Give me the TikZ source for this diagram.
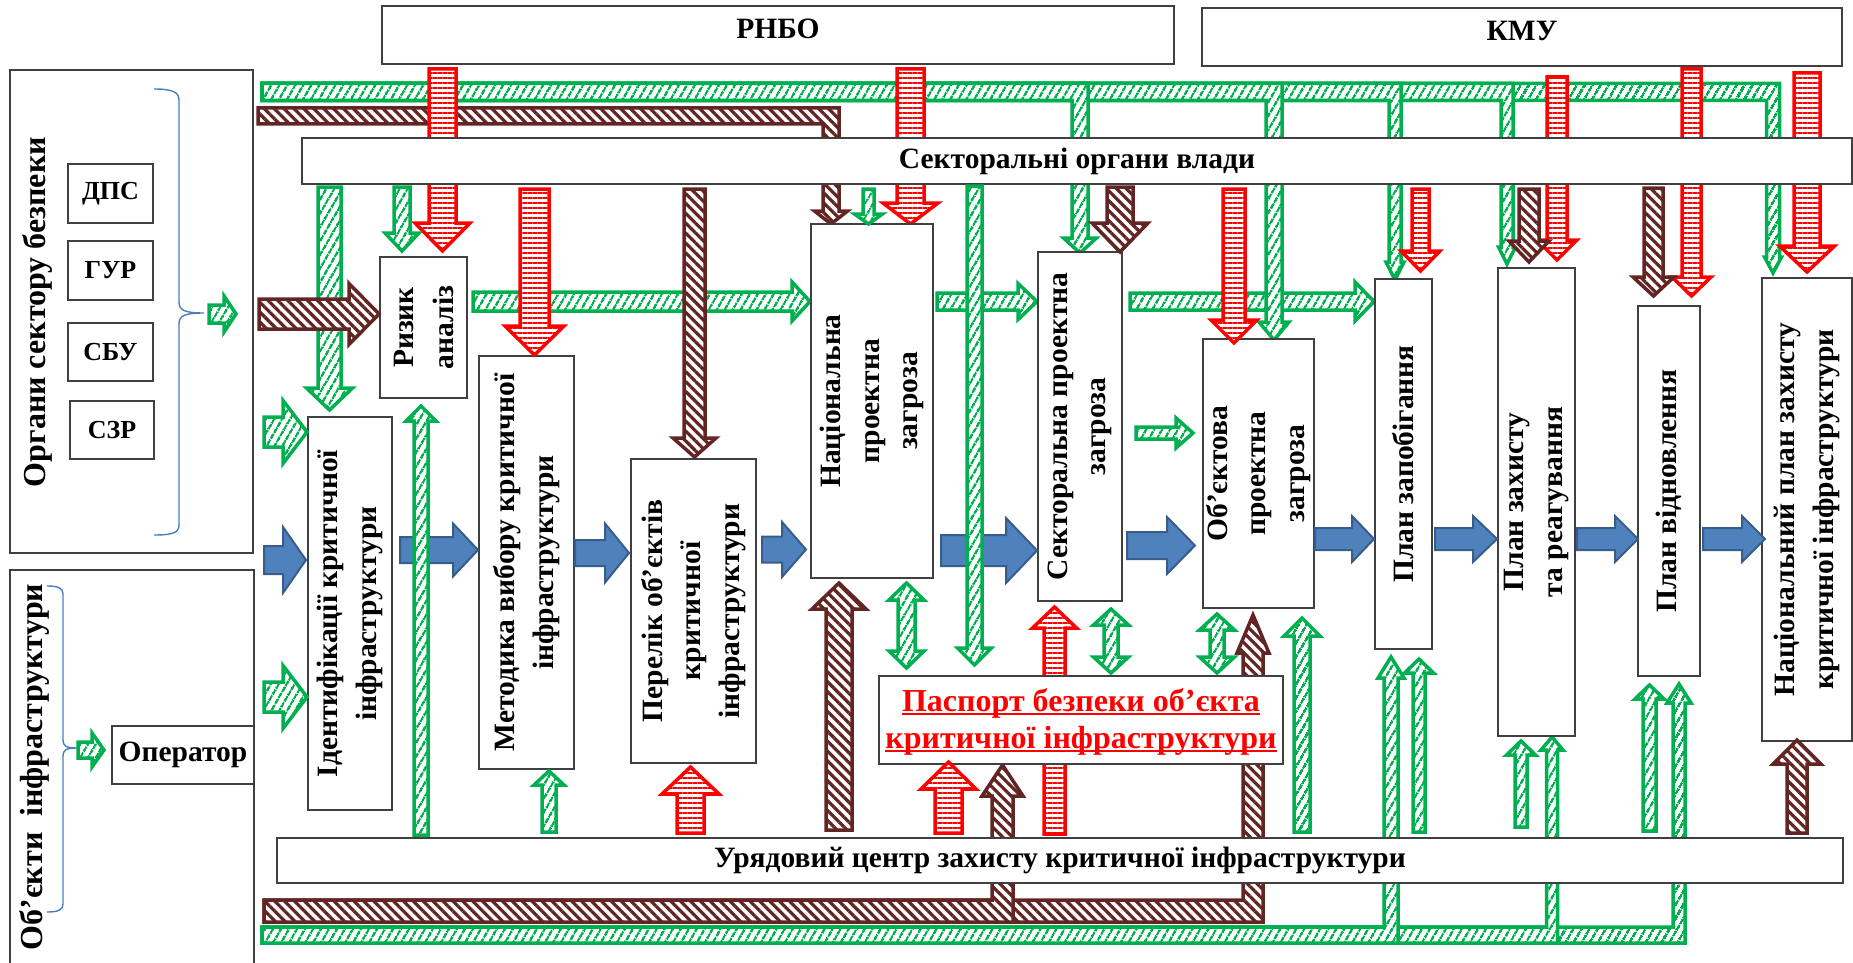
\documentclass[tikz,border=0pt]{standalone}
\usepackage{fontspec}
\setmainfont{Liberation Serif}
\usetikzlibrary{patterns.meta}
\definecolor{G}{HTML}{00B050}
\definecolor{R}{HTML}{FF0000}
\definecolor{Br}{HTML}{632523}
\definecolor{BlF}{HTML}{4F81BD}
\definecolor{BlD}{HTML}{385D8A}
\definecolor{Bx}{HTML}{404040}
\definecolor{Brc}{HTML}{4A7EBB}
% vertical block arrow: x, y0, ybase, ytip, half shaft, half head, style
\newcommand{\VA}[7]{\path[#7] (#1-#5,#2) -- (#1-#5,#3) -- (#1-#6,#3) -- (#1,#4) -- (#1+#6,#3) -- (#1+#5,#3) -- (#1+#5,#2) -- cycle;}
% horizontal block arrow: y, x0, xbase, xtip, half shaft, half head, style
\newcommand{\HA}[7]{\path[#7] (#2,#1-#5) -- (#3,#1-#5) -- (#3,#1-#6) -- (#4,#1) -- (#3,#1+#6) -- (#3,#1+#5) -- (#2,#1+#5) -- cycle;}
% double vertical: x, ytop, ybot, headlen, half shaft, half head, style
\newcommand{\DVA}[7]{\path[#7] (#1,#2) -- (#1+#6,#2+#4) -- (#1+#5,#2+#4) -- (#1+#5,#3-#4) -- (#1+#6,#3-#4) -- (#1,#3) -- (#1-#6,#3-#4) -- (#1-#5,#3-#4) -- (#1-#5,#2+#4) -- (#1-#6,#2+#4) -- cycle;}
% L arrows: y, x0, xb, ybase, ytip, half h, half v, half head, style
\newcommand{\LAD}[9]{\path[#9] (#2,#1-#6) -- (#3+#7,#1-#6) -- (#3+#7,#4) -- (#3+#8,#4) -- (#3,#5) -- (#3-#8,#4) -- (#3-#7,#4) -- (#3-#7,#1+#6) -- (#2,#1+#6) -- cycle;}
\newcommand{\LAU}[9]{\path[#9] (#2,#1+#6) -- (#3+#7,#1+#6) -- (#3+#7,#4) -- (#3+#8,#4) -- (#3,#5) -- (#3-#8,#4) -- (#3-#7,#4) -- (#3-#7,#1-#6) -- (#2,#1-#6) -- cycle;}
% box: [opts]{x1}{y1}{x2}{y2}{name}
\newcommand{\BX}[6][]{\node[box,minimum width={(#4-#2)*1pt},minimum height={(#5-#3)*1pt},#1] (#6) at ({(#2+#4)/2},{(#3+#5)/2}) {};}
\begin{document}
\begin{tikzpicture}[x=1pt,y=-1pt,
 garr/.style={preaction={fill=white}, pattern={Lines[angle=60,distance=6.5pt,line width=2.4pt]}, pattern color=G, draw=G, line width=3.5pt, line join=miter},
 rarr/.style={preaction={fill=white}, pattern={Lines[angle=0,distance=5pt,line width=2.6pt]}, pattern color=R, draw=R, line width=3.5pt, line join=miter},
 barr/.style={preaction={fill=white}, pattern={Lines[angle=-45,distance=7pt,line width=3.2pt]}, pattern color=Br, draw=Br, line width=3.5pt, line join=miter},
 blarr/.style={fill=BlF, draw=BlD, line width=2pt, line join=miter},
 box/.style={draw=Bx, line width=1.6pt, fill=white, inner sep=0pt, outer sep=0pt},
 lbl/.style={font=\fontsize{29.5}{38.5}\selectfont\bfseries, align=center, inner sep=0pt},
 big/.style={font=\fontsize{32}{36}\selectfont\bfseries, align=center, inner sep=0pt},
 sml/.style={font=\fontsize{26}{30}\selectfont\bfseries, inner sep=0pt},
 pas/.style={font=\fontsize{32}{36}\selectfont\bfseries, inner sep=0pt, text=R, anchor=base},
 brc/.style={draw=Brc, line width=1.4pt}]
\useasboundingbox (0,0) rectangle (1853,963);
\fill[white] (0,0) rectangle (1853,963);

% horizontal green flows (lowest layer)
\HA{301.5}{473}{792}{810}{9.5}{19.5}{garr}
\HA{301.5}{937}{1018}{1037}{8.5}{18}{garr}
\HA{301.5}{1130}{1355}{1374}{8.5}{19.5}{garr}

% top buses
\LAD{92}{262}{1773}{257}{273}{8.5}{6.5}{8.5}{garr}
\LAD{92}{262}{1507}{247}{264}{8.5}{6}{8.5}{garr}
\LAD{92}{262}{1395}{262}{280}{8.5}{6}{9}{garr}
\LAD{92}{262}{1274}{322}{340}{8.5}{8}{15}{garr}
\LAD{92}{262}{1080}{238}{253}{8.5}{8}{16.5}{garr}
\LAD{116}{258}{831}{211}{224}{8}{8}{16.5}{barr}
% bottom buses
\LAU{935}{262}{1679}{703}{684}{8}{6}{12}{garr}
\LAU{935}{262}{1552}{750}{737}{8}{5.5}{11}{garr}
\LAU{935}{262}{1391}{678}{657}{8}{7}{13}{garr}
\LAU{911}{264}{1253}{653}{615}{11}{10}{16}{barr}
\LAU{911}{264}{1002.5}{796}{765}{11}{10.5}{20.5}{barr}

% red arrows from the top
\VA{442.5}{69}{223}{251}{13.5}{27.5}{rarr}
\VA{910.5}{69}{203}{224}{13.5}{27.5}{rarr}
\VA{1557}{77}{240}{260}{10}{20}{rarr}
\VA{1691.5}{69}{277}{296}{9.5}{19.5}{rarr}
\VA{1807}{73}{246}{272}{13}{27.5}{rarr}
\VA{1054.5}{834}{628}{607}{10.5}{22}{rarr}

% wide boxes
\BX{382}{6}{1174}{64}{rnbo}
\BX{1202}{8}{1842}{66}{kmu}
\node[lbl] (rnbo-t) at (778,29) {РНБО};
\node[lbl] (kmu-t) at (1522,31) {КМУ};
\node[box,lbl,minimum width=1550pt,minimum height=46pt] (sekt) at (1077,161) {Секторальні органи влади};
\node[box,lbl,minimum width=1566pt,minimum height=45pt] (uryad) at (1060,860.5) {Урядовий центр захисту критичної інфраструктури};

% left side
\BX{10}{70}{253}{553}{organy}
\BX{10}{570}{254}{990}{obinfra}
\node[big,rotate=90] (organy-t) at (37,312) {Органи сектору безпеки};
\node[big,rotate=90] (obinfra-t) at (34,767) {Об’єкти\ \ інфраструктури};
\BX{68}{164}{153}{223}{dps}\node[sml] (dps-t) at (dps) {ДПС};
\BX{68}{241}{153}{300}{gur}\node[sml] (gur-t) at (gur) {ГУР};
\BX{68}{323}{153}{381}{sbu}\node[sml] (sbu-t) at (sbu) {СБУ};
\BX{70}{401}{154}{459}{szr}\node[sml] (szr-t) at (szr) {СЗР};
\BX{112}{726}{254}{784}{operator}\node[lbl] (operator-t) at (operator) {Оператор};
\draw[brc] (154,89) .. controls (172,89) and (179,92) .. (179,100) -- (179,302) .. controls (179,310) and (184,313) .. (204,313) .. controls (184,313) and (179,316) .. (179,324) -- (179,525) .. controls (179,533) and (172,535) .. (154,535);
\draw[brc] (47,586) .. controls (58,586) and (63,588) .. (63,594) -- (63,740) .. controls (63,746) and (66,748) .. (77,748) .. controls (66,748) and (63,750) .. (63,756) -- (63,904) .. controls (63,910) and (58,912) .. (47,912);

% process boxes
\BX{380}{257}{467}{398}{ryzyk}
\BX{308}{417}{392}{810}{ident}
\BX{479}{356}{574}{769}{metod}
\BX{631}{459}{756}{763}{perelik}
\BX{811}{224}{933}{578}{natsz}
\BX{1038}{252}{1122}{601}{sektz}
\BX{1203}{339}{1314}{608}{obz}
\BX{1375}{279}{1432}{649}{planz}
\BX{1498}{268}{1575}{736}{planzr}
\BX{1638}{306}{1700}{676}{planv}
\BX{1762}{278}{1852}{741}{natplan}
\BX{879}{676}{1283}{764}{pasport}

\node[lbl,rotate=90,font=\fontsize{29.5}{40}\selectfont\bfseries] (ryzyk-t) at (ryzyk) {Ризик\\аналіз};
\node[lbl,rotate=90] (ident-t) at (ident) {Ідентифікації критичної\\інфраструктури};
\node[lbl,rotate=90] (metod-t) at (metod) {Методика вибору критичної\\інфраструктури};
\node[lbl,rotate=90] (perelik-t) at (perelik) {Перелік об’єктів\\критичної\\інфраструктури};
\node[lbl,rotate=90] (natsz-t) at (natsz) {Національна\\проектна\\загроза};
\node[lbl,rotate=90] (sektz-t) at (sektz) {Секторальна проектна\\загроза};
\node[lbl,rotate=90] (obz-t) at (obz) {Об’єктова\\проектна\\загроза};
\node[lbl,rotate=90] (planz-t) at (planz) {План запобігання};
\node[lbl,rotate=90] (planzr-t) at (planzr) {План захисту\\та реагування};
\node[lbl,rotate=90] (planv-t) at (planv) {План відновлення};
\node[lbl,rotate=90] (natplan-t) at (natplan) {Національний план захисту\\критичної інфраструктури};
\node[pas] (pas1) at (1081,711) {Паспорт безпеки об’єкта};
\node[pas] (pas2) at (1081,748) {критичної інфраструктури};
\draw[R,line width=2.5pt] ([yshift=-3pt]pas1.base west) -- ([yshift=-3pt]pas1.base east);
\draw[R,line width=2.5pt] ([yshift=-3pt]pas2.base west) -- ([yshift=-3pt]pas2.base east);

% blue flow
\HA{560}{264}{283}{306}{14}{33}{blarr}
\HA{550}{400}{453}{478}{13}{26.5}{blarr}
\HA{553}{575}{605}{629}{13}{29.5}{blarr}
\HA{549.5}{762}{782}{806}{13}{27.5}{blarr}
\HA{550.5}{941}{1006}{1037}{15.5}{32.5}{blarr}
\HA{545.5}{1127}{1167}{1195}{13.5}{28.5}{blarr}
\HA{539}{1315}{1352}{1374}{11}{23}{blarr}
\HA{539}{1435}{1473}{1497}{11}{23}{blarr}
\HA{539}{1577}{1615}{1638}{11}{23}{blarr}
\HA{539}{1703}{1742}{1765}{11}{23}{blarr}

% red arrows
\VA{534.5}{189}{326}{355}{14.5}{29.5}{rarr}
\VA{1234}{189}{320}{343}{11}{23}{rarr}
\VA{1420.5}{189}{251}{271}{8.5}{19.5}{rarr}
\VA{690.5}{833}{794}{767}{13.5}{28.5}{rarr}
\VA{948.5}{833}{789}{762}{13.5}{27.5}{rarr}

% green arrows
\VA{329.5}{187}{388}{410}{11.5}{23}{garr}
\VA{402}{187}{233}{251}{8}{17}{garr}
\VA{868.5}{189}{214}{224}{5.5}{14}{garr}
\VA{974.5}{186}{648}{665}{7.5}{17}{garr}
\HA{433}{1136}{1176}{1193}{6}{15}{garr}
\VA{421}{835}{421}{406}{7}{15}{garr}
\VA{549}{832}{785}{771}{7}{15}{garr}
\VA{1302}{832}{636}{618}{8}{18}{garr}
\VA{1419}{832}{673}{659}{6}{14.5}{garr}
\VA{1521}{827}{755}{741}{6}{14.5}{garr}
\VA{1649.5}{831}{699}{685}{6.5}{14.5}{garr}
\HA{432}{264}{283}{307}{15}{31.5}{garr}
\HA{697}{264}{283}{307}{15}{31.5}{garr}
\HA{314}{209}{224}{236}{9}{18}{garr}
\HA{750}{78}{92}{104}{8}{17}{garr}
\DVA{906.5}{583}{668}{17}{8.5}{17.5}{garr}
\DVA{1111}{609}{673}{16}{7}{17.5}{garr}
\DVA{1217}{614}{673}{16}{7}{17.5}{garr}

% brown arrows
\HA{314}{259}{349}{379}{15}{30.5}{barr}
\VA{694.5}{189}{438}{457}{10.5}{21.5}{barr}
\VA{1120}{187}{223}{252}{13}{28}{barr}
\VA{1529}{189}{241}{262}{10}{20}{barr}
\VA{1653.5}{188}{277}{296}{9.5}{20.5}{barr}
\VA{839}{830}{609}{583}{13}{27}{barr}
\VA{1797}{833}{764}{740}{10}{24}{barr}
\end{tikzpicture}
\end{document}
